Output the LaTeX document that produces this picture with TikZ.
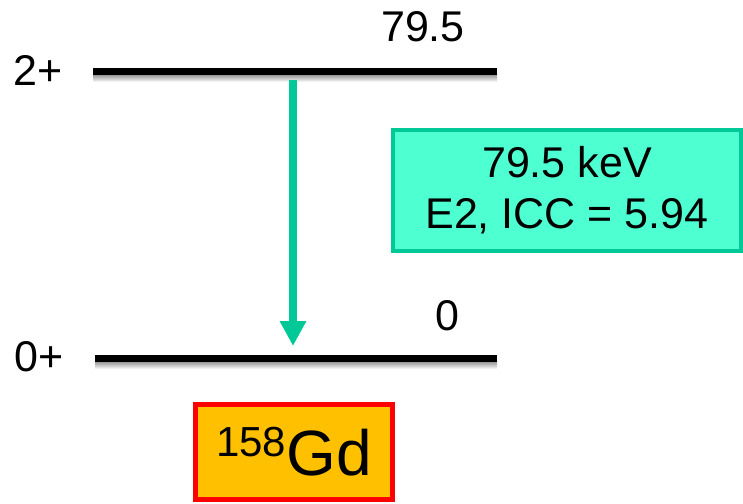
\documentclass[tikz,border=0pt]{standalone}
\usepackage{fontspec}
\setmainfont{Liberation Sans}
\usetikzlibrary{arrows.meta}
\definecolor{gamcol}{HTML}{00C896}
\definecolor{boxfill}{HTML}{4EFFD2}
\definecolor{gdfill}{HTML}{FFC000}
\tikzset{
  level/.style={line width=7pt, black},
  levelshadow/.style={top color=black!45, bottom color=white, draw=none},
  lbl/.style={font=\fontsize{43}{50}\selectfont, inner sep=0pt},
  gammaline/.style={line width=8pt, gamcol, -{Triangle[width=25pt,length=25pt]}},
  infobox/.style={draw=gamcol, fill=boxfill, line width=4pt, minimum width=348pt, minimum height=121pt, align=center, inner sep=0pt, font=\fontsize{43}{51}\selectfont},
  nucbox/.style={draw=red, fill=gdfill, line width=5pt, minimum width=197pt, minimum height=95pt, inner sep=0pt}
}
\begin{document}
\begin{tikzpicture}[x=1pt,y=-1pt]
\useasboundingbox (0,0) rectangle (743,503);
% upper level
\coordinate (u1) at (93,71);
\coordinate (u2) at (497,71);
\shade[levelshadow] ([yshift=-3pt]u1) rectangle ([yshift=-11pt]u2);
\draw[level] (u1) -- (u2);
% lower level
\coordinate (g1) at (95,358);
\coordinate (g2) at (497,358);
\shade[levelshadow] ([yshift=-3pt]g1) rectangle ([yshift=-11pt]g2);
\draw[level] (g1) -- (g2);
% labels
\node[lbl] (spinU) at (38,70) {2+};
\node[lbl] (spinG) at (39,357) {0+};
\node[lbl] (enU) at (423,27) {79.5};
\node[lbl] (enG) at (447,316) {0};
% gamma transition
\coordinate (a1) at (293,80);
\coordinate (a2) at (293,346);
\draw[gammaline] (a1) -- (a2);
% info box
\node[infobox] (info) at (567,190.5) {79.5 keV\\E2, ICC = 5.94};
% nucleus box
\node[nucbox] (nuc) at (294,452) {\raisebox{19pt}{\fontsize{42}{42}\selectfont 158}\fontsize{64}{64}\selectfont Gd};
\end{tikzpicture}
\end{document}
